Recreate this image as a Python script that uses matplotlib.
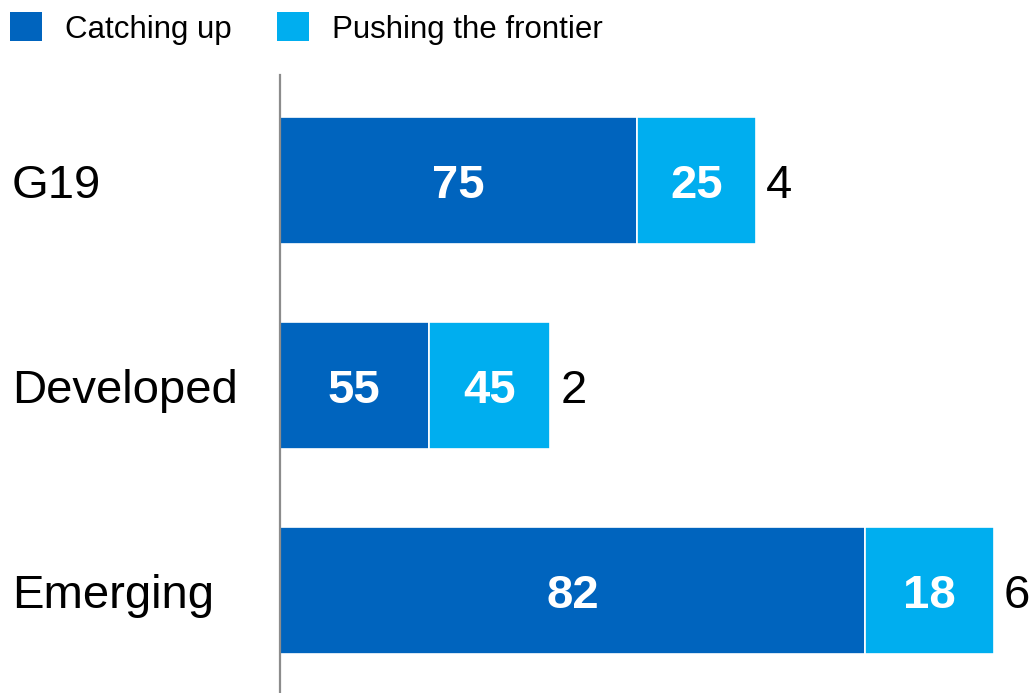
import matplotlib
matplotlib.use("Agg")
import matplotlib.pyplot as plt
from matplotlib.patches import Patch
from matplotlib.transforms import blended_transform_factory

plt.rcParams['font.family'] = ['Liberation Sans', 'DejaVu Sans']

# Data
categories = ["G19", "Developed", "Emerging"]
totals = [4.0, 2.27, 6.0]          # bar length (label shows rounded total)
catching_up_pct = [75, 55, 82]
frontier_pct = [25, 45, 18]
series_names = ["Catching up", "Pushing the frontier"]

dark_blue = "#0064BE"
light_blue = "#00AEEF"

W, H, DPI = 1035, 693, 100
fig = plt.figure(figsize=(W / DPI, H / DPI), dpi=DPI)
ax = fig.add_axes([280 / W, 0, 755 / W, 618 / H])

ypos = list(range(len(categories)))
catch_len = [t * p / 100 for t, p in zip(totals, catching_up_pct)]
front_len = [t * p / 100 for t, p in zip(totals, frontier_pct)]

bar_h = 0.62
ax.barh(ypos, catch_len, height=bar_h, color=dark_blue,
        edgecolor="white", linewidth=1.2)
ax.barh(ypos, front_len, left=catch_len, height=bar_h, color=light_blue,
        edgecolor="white", linewidth=1.2)

ax.set_xlim(0, 755 / 119.0)
ax.set_ylim(2.5, -0.515)

for s in ["top", "right", "bottom"]:
    ax.spines[s].set_visible(False)
ax.spines["left"].set_color("#8c8c8c")
ax.spines["left"].set_linewidth(1.6)
ax.set_xticks([])
ax.set_yticks([])

fs = 34
base_off = 0.085  # baseline shift below bar centre (data units)

for i, (cl, fl, tot, cp, fp) in enumerate(zip(catch_len, front_len, totals,
                                              catching_up_pct, frontier_pct)):
    ax.text(cl / 2, i + base_off, f"{cp}", color="white", fontsize=fs,
            fontweight="bold", ha="center", va="baseline")
    ax.text(cl + fl / 2, i + base_off, f"{fp}", color="white", fontsize=fs,
            fontweight="bold", ha="center", va="baseline")
    ax.text(tot + 0.085, i + base_off, f"{tot:.0f}", color="black",
            fontsize=fs, ha="left", va="baseline")

# Category labels anchored to the figure's left edge
trans = blended_transform_factory(fig.transFigure, ax.transData)
for i, c in enumerate(categories):
    ax.text(12 / W, i + base_off, c, transform=trans, fontsize=fs,
            ha="left", va="baseline", clip_on=False)

handles = [Patch(facecolor=dark_blue, edgecolor="none"),
           Patch(facecolor=light_blue, edgecolor="none")]
fig.legend(handles, series_names, loc="upper left",
           bbox_to_anchor=(1 / W, 1 - 3 / H),
           ncol=2, frameon=False, fontsize=22.5, handlelength=1.02,
           handleheight=1.05, handletextpad=0.72, columnspacing=1.47,
           borderpad=0.3, borderaxespad=0)

fig.savefig("out.png", dpi=DPI)
